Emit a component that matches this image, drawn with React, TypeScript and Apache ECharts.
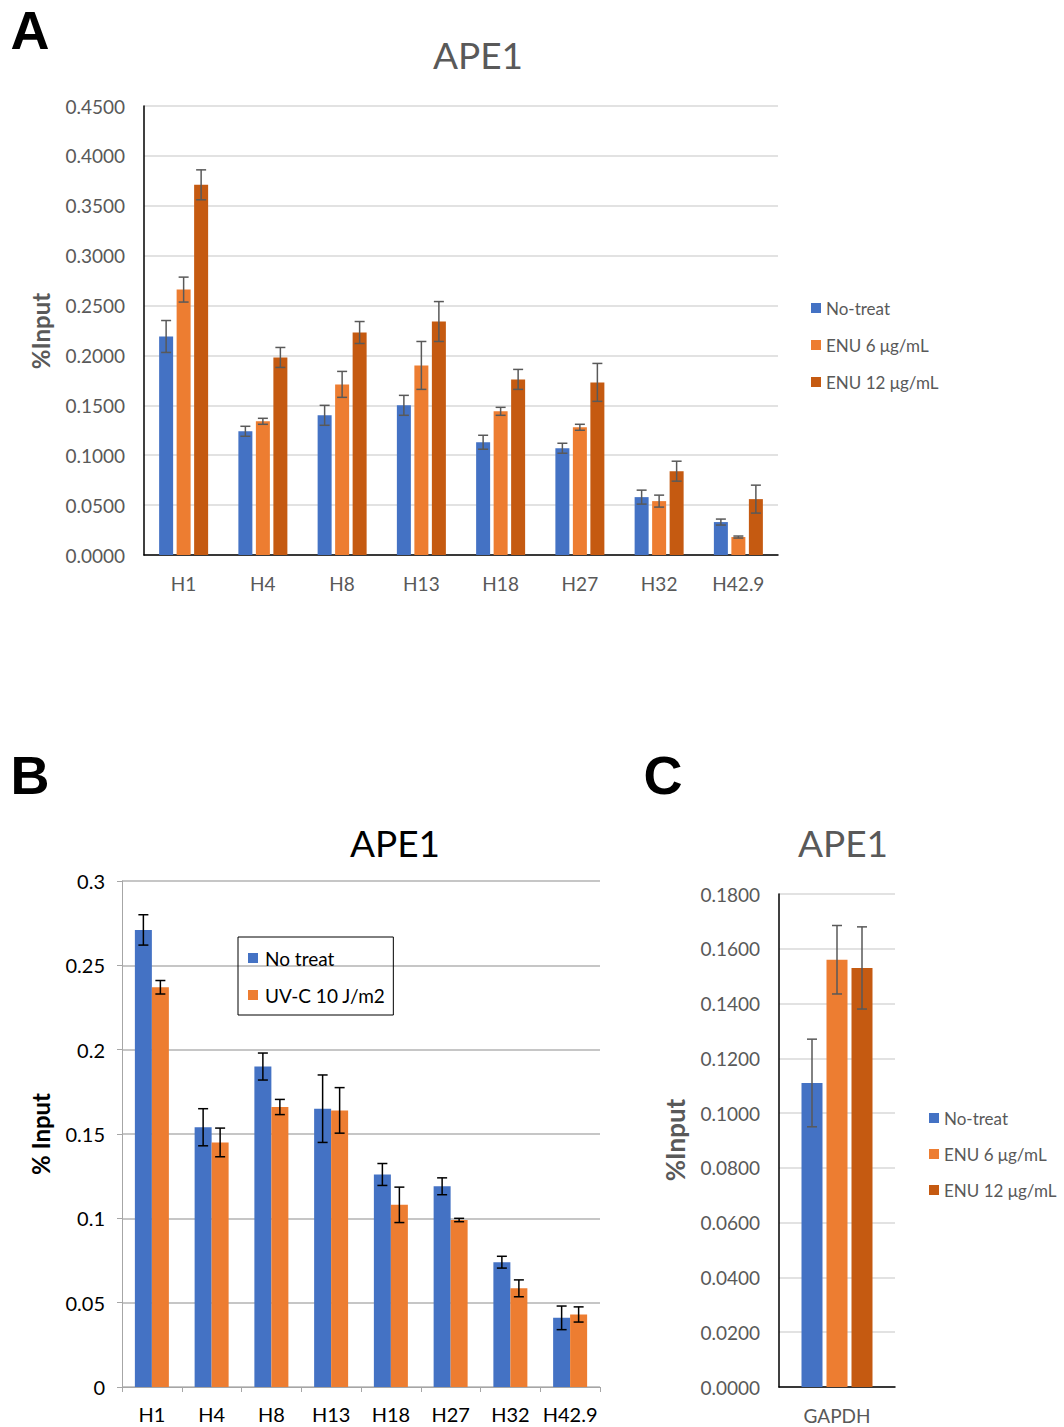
import React, { useEffect, useRef } from "react";
import * as echarts from "echarts";

// ---------- Panel A data ----------
const catsA = ["H1", "H4", "H8", "H13", "H18", "H27", "H32", "H42.9"];
const aNoTreat = [0.219, 0.124, 0.14, 0.15, 0.113, 0.107, 0.058, 0.033];
const aNoTreatErr = [0.016, 0.005, 0.01, 0.01, 0.007, 0.005, 0.007, 0.003];
const aEnu6 = [0.266, 0.134, 0.171, 0.19, 0.144, 0.128, 0.054, 0.018];
const aEnu6Err = [0.0125, 0.003, 0.013, 0.024, 0.004, 0.003, 0.006, 0.001];
const aEnu12 = [0.371, 0.198, 0.223, 0.234, 0.176, 0.173, 0.084, 0.056];
const aEnu12Err = [0.015, 0.01, 0.011, 0.02, 0.01, 0.019, 0.01, 0.014];

// ---------- Panel B data ----------
const catsB = ["H1", "H4", "H8", "H13", "H18", "H27", "H32", "H42.9"];
const bNoTreat = [0.271, 0.154, 0.19, 0.165, 0.126, 0.119, 0.074, 0.041];
const bNoTreatErr = [0.009, 0.011, 0.008, 0.02, 0.0065, 0.005, 0.0035, 0.007];
const bUvc = [0.237, 0.145, 0.166, 0.164, 0.108, 0.099, 0.0585, 0.043];
const bUvcErr = [0.004, 0.0085, 0.0045, 0.0135, 0.0105, 0.001, 0.005, 0.0045];

// ---------- Panel C data ----------
const catsC = ["GAPDH"];
const cNoTreat = [0.111];
const cNoTreatErr = [0.016];
const cEnu6 = [0.156];
const cEnu6Err = [0.0125];
const cEnu12 = [0.153];
const cEnu12Err = [0.015];

const BLUE = "#4472C4";
const ORANGE = "#ED7D31";
const DARK = "#C55A11";
const GRAYTXT = "#595959";
const FONT = "Lato, 'Open Sans', sans-serif";

function errRender(idx: number, n: number, barW: number, gap: number, color: string, cap: number) {
  return (params: any, api: any) => {
    const x = api.value(0);
    const v = api.value(1);
    const e = api.value(2);
    const hi = api.coord([x, v + e]);
    const lo = api.coord([x, v - e]);
    const off = (idx - (n - 1) / 2) * (barW + gap);
    const cx = hi[0] + off;
    const st = { stroke: color, lineWidth: 1.5 };
    return {
      type: "group",
      children: [
        { type: "line", shape: { x1: cx, y1: hi[1], x2: cx, y2: lo[1] }, style: st },
        { type: "line", shape: { x1: cx - cap, y1: hi[1], x2: cx + cap, y2: hi[1] }, style: st },
        { type: "line", shape: { x1: cx - cap, y1: lo[1], x2: cx + cap, y2: lo[1] }, style: st },
      ],
    };
  };
}

function errData(vals: number[], errs: number[]) {
  return vals.map((v, i) => [i, v, errs[i]]);
}

export default function App() {
  const ref = useRef<HTMLDivElement>(null);
  useEffect(() => {
    document.body.style.margin = "0";
    const chart = echarts.init(ref.current!, null, { renderer: "svg" });

    const barA = 14, gapA = 3.5;
    const barB = 17, gapB = 0;
    const barC = 21, gapC = 4;

    const series: any[] = [];
    // Panel A
    const aSets = [
      ["No-treat", aNoTreat, aNoTreatErr, BLUE],
      ["ENU 6 μg/mL", aEnu6, aEnu6Err, ORANGE],
      ["ENU 12 μg/mL", aEnu12, aEnu12Err, DARK],
    ] as const;
    aSets.forEach(([name, vals, errs, color]) => {
      series.push({
        type: "bar", name, xAxisIndex: 0, yAxisIndex: 0, data: vals as any,
        barWidth: barA, barGap: (gapA / barA) * 100 + "%",
        itemStyle: { color },
      });
    });
    aSets.forEach(([name, vals, errs], i) => {
      series.push({
        type: "custom", name: name + " err", xAxisIndex: 0, yAxisIndex: 0,
        data: errData(vals as any, errs as any), encode: { x: 0, y: 1 }, z: 10,
        renderItem: errRender(i, 3, barA, gapA, "#595959", 5),
      });
    });
    // Panel B
    const bSets = [
      ["No treat", bNoTreat, bNoTreatErr, BLUE],
      ["UV-C 10 J/m2", bUvc, bUvcErr, ORANGE],
    ] as const;
    bSets.forEach(([name, vals, errs, color]) => {
      series.push({
        type: "bar", name, xAxisIndex: 1, yAxisIndex: 1, data: vals as any,
        barWidth: barB, barGap: "0%", itemStyle: { color },
      });
    });
    bSets.forEach(([name, vals, errs], i) => {
      series.push({
        type: "custom", name: name + " err", xAxisIndex: 1, yAxisIndex: 1,
        data: errData(vals as any, errs as any), encode: { x: 0, y: 1 }, z: 10,
        renderItem: errRender(i, 2, barB, gapB, "#000000", 5),
      });
    });
    // Panel C
    const cSets = [
      ["No-treat", cNoTreat, cNoTreatErr, BLUE],
      ["ENU 6 μg/mL", cEnu6, cEnu6Err, ORANGE],
      ["ENU 12 μg/mL", cEnu12, cEnu12Err, DARK],
    ] as const;
    cSets.forEach(([name, vals, errs, color]) => {
      series.push({
        type: "bar", name, xAxisIndex: 2, yAxisIndex: 2, data: vals as any,
        barWidth: barC, barGap: (gapC / barC) * 100 + "%", itemStyle: { color },
      });
    });
    cSets.forEach(([name, vals, errs], i) => {
      series.push({
        type: "custom", name: name + " err", xAxisIndex: 2, yAxisIndex: 2,
        data: errData(vals as any, errs as any), encode: { x: 0, y: 1 }, z: 10,
        renderItem: errRender(i, 3, barC, gapC, "#595959", 5),
      });
    });

    const option: any = {
      animation: false,
      textStyle: { fontFamily: FONT },
      grid: [
        { left: 144, top: 106, width: 634, height: 449 },
        { left: 122, top: 881, width: 478, height: 506 },
        { left: 779, top: 894, width: 116, height: 493 },
      ],
      xAxis: [
        {
          gridIndex: 0, type: "category", data: catsA,
          axisLine: { lineStyle: { color: "#000", width: 1.5 } },
          axisTick: { show: false },
          axisLabel: { color: GRAYTXT, fontSize: 19, margin: 19, fontFamily: FONT, interval: 0 },
        },
        {
          gridIndex: 1, type: "category", data: catsB,
          axisLine: { lineStyle: { color: "#A6A6A6", width: 1 } },
          axisTick: { show: true, length: 5, lineStyle: { color: "#A6A6A6" } },
          axisLabel: { color: "#000", fontSize: 20, margin: 17, fontFamily: FONT, interval: 0 },
        },
        {
          gridIndex: 2, type: "category", data: catsC,
          axisLine: { lineStyle: { color: "#000", width: 1.5 } },
          axisTick: { show: false },
          axisLabel: { color: GRAYTXT, fontSize: 19, margin: 19, fontFamily: FONT, interval: 0 },
        },
      ],
      yAxis: [
        {
          gridIndex: 0, type: "value", min: 0, max: 0.45, interval: 0.05,
          axisLine: { show: true, lineStyle: { color: "#000", width: 1.5 } },
          axisTick: { show: false },
          splitLine: { lineStyle: { color: "#D9D9D9", width: 1.5 } },
          axisLabel: { color: GRAYTXT, fontSize: 19, margin: 19, formatter: (v: number) => v.toFixed(4), fontFamily: FONT },
        },
        {
          gridIndex: 1, type: "value", min: 0, max: 0.3, interval: 0.05,
          axisLine: { show: true, lineStyle: { color: "#A6A6A6", width: 1 } },
          axisTick: { show: true, length: 5, lineStyle: { color: "#A6A6A6" } },
          splitLine: { lineStyle: { color: "#B3B3B3", width: 1.5 } },
          axisLabel: { color: "#000", fontSize: 20, margin: 17, fontFamily: FONT,
            formatter: (v: number) => String(parseFloat(v.toFixed(4))) },
        },
        {
          gridIndex: 2, type: "value", min: 0, max: 0.18, interval: 0.02,
          axisLine: { show: true, lineStyle: { color: "#000", width: 1.5 } },
          axisTick: { show: false },
          splitLine: { lineStyle: { color: "#D9D9D9", width: 1.5 } },
          axisLabel: { color: GRAYTXT, fontSize: 19, margin: 19, formatter: (v: number) => v.toFixed(4), fontFamily: FONT },
        },
      ],
      legend: [
        {
          orient: "vertical", left: 806, top: 294,
          data: ["No-treat", "ENU 6 μg/mL", "ENU 12 μg/mL"],
          itemWidth: 10, itemHeight: 10, itemGap: 19,
          icon: "rect",
          textStyle: { color: GRAYTXT, fontSize: 17, fontFamily: FONT, lineHeight: 18 },
          selectedMode: false,
        },
        {
          orient: "vertical", left: 238, top: 937,
          data: ["No treat", "UV-C 10 J/m2"],
          itemWidth: 10, itemHeight: 10, itemGap: 17,
          icon: "rect",
          padding: [11, 8, 10, 10],
          borderColor: "#000", borderWidth: 1,
          textStyle: { color: "#000", fontSize: 19, fontFamily: FONT, lineHeight: 20, padding: [0, 0, 0, 2] },
          selectedMode: false,
        },
        {
          orient: "vertical", left: 924, top: 1104,
          data: ["No-treat", "ENU 6 μg/mL", "ENU 12 μg/mL"],
          itemWidth: 10, itemHeight: 10, itemGap: 18,
          icon: "rect",
          textStyle: { color: GRAYTXT, fontSize: 17, fontFamily: FONT, lineHeight: 18 },
          selectedMode: false,
        },
      ],
      graphic: [
        { type: "text", x: 30, y: 30, style: { text: "A", fontSize: 54, fontWeight: "bold", fill: "#000", fontFamily: "'Liberation Sans', Arial, sans-serif", textAlign: "center", textVerticalAlign: "middle" } },
        { type: "text", x: 30, y: 775, style: { text: "B", fontSize: 54, fontWeight: "bold", fill: "#000", fontFamily: "'Liberation Sans', Arial, sans-serif", textAlign: "center", textVerticalAlign: "middle" } },
        { type: "text", x: 663, y: 775, style: { text: "C", fontSize: 54, fontWeight: "bold", fill: "#000", fontFamily: "'Liberation Sans', Arial, sans-serif", textAlign: "center", textVerticalAlign: "middle" } },
        { type: "text", x: 478, y: 54, style: { text: "APE1", fontSize: 37, fill: GRAYTXT, fontFamily: FONT, textAlign: "center", textVerticalAlign: "middle" } },
        { type: "text", x: 395, y: 842, style: { text: "APE1", fontSize: 37, fill: "#000", fontFamily: FONT, textAlign: "center", textVerticalAlign: "middle" } },
        { type: "text", x: 843, y: 842, style: { text: "APE1", fontSize: 37, fill: GRAYTXT, fontFamily: FONT, textAlign: "center", textVerticalAlign: "middle" } },
        { type: "text", x: 40, y: 331, rotation: Math.PI / 2, style: { text: "%Input", fontSize: 24, fontWeight: "bold", fill: GRAYTXT, fontFamily: FONT, textAlign: "center", textVerticalAlign: "middle" } },
        { type: "text", x: 40, y: 1134, rotation: Math.PI / 2, style: { text: "% Input", fontSize: 24, fontWeight: "bold", fill: "#000", fontFamily: FONT, textAlign: "center", textVerticalAlign: "middle" } },
        { type: "text", x: 675, y: 1140, rotation: Math.PI / 2, style: { text: "%Input", fontSize: 26, fontWeight: "bold", fill: GRAYTXT, fontFamily: FONT, textAlign: "center", textVerticalAlign: "middle" } },
      ],
      series,
    };
    chart.setOption(option);
    return () => chart.dispose();
  }, []);
  return <div ref={ref} style={{ position: "absolute", left: 0, top: 0, width: 1064, height: 1427 }} />;
}
